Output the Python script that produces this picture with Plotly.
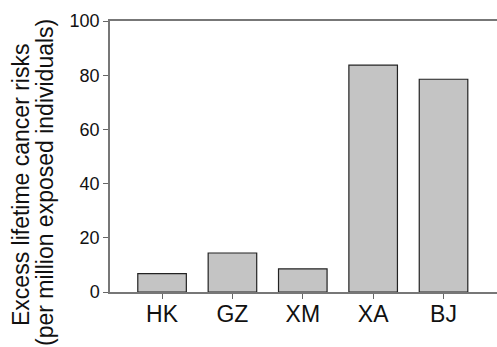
import plotly.graph_objects as go

sites = ["HK", "GZ", "XM", "XA", "BJ"]
risks = [6.8, 14.4, 8.5, 83.7, 78.5]
y_ticks = [0, 20, 40, 60, 80, 100]

W, H = 497, 347
L, R, T, B = 110, 0, 21, 55

fig = go.Figure(go.Bar(
    x=list(range(len(sites))), y=risks, width=0.69,
    marker=dict(color="#c4c4c4", line=dict(color="#222222", width=1.2)),
))

fig.update_layout(
    width=W, height=H,
    margin=dict(l=L, r=R, t=T, b=B),
    paper_bgcolor="white", plot_bgcolor="white",
    showlegend=False,
    font=dict(family="Liberation Sans, Arial, sans-serif", color="#111111"),
)
fig.update_xaxes(
    range=[-0.74, 4.76], tickmode="array",
    tickvals=list(range(len(sites))), ticktext=sites,
    ticks="outside", ticklen=5, tickcolor="#666666", tickwidth=1,
    ticklabelstandoff=-4,
    showline=True, linecolor="#777777", linewidth=1.5, mirror=True,
    showgrid=False, zeroline=False,
    tickfont=dict(size=23, color="#111111"),
)
fig.update_yaxes(
    range=[0, 100], tickvals=y_ticks,
    ticks="outside", ticklen=5, tickcolor="#666666", tickwidth=1,
    showline=True, linecolor="#777777", linewidth=1.5,
    showgrid=False, zeroline=False,
    tickfont=dict(size=18, color="#111111"),
)
fig.add_annotation(
    text="Excess lifetime cancer risks", textangle=-90,
    xref="paper", yref="paper", x=(21 - L) / (W - L - R), y=(H - B - 185) / (H - T - B),
    xanchor="center", yanchor="middle", showarrow=False,
    font=dict(size=23, color="#111111"),
)
fig.add_annotation(
    text="(per million exposed individuals)", textangle=-90,
    xref="paper", yref="paper", x=(45 - L) / (W - L - R), y=(H - B - 183) / (H - T - B),
    xanchor="center", yanchor="middle", showarrow=False,
    font=dict(size=23, color="#111111"),
)

fig.write_html(
    "out.html",
    config={"displayModeBar": False},
    post_script="document.body.style.margin='0';document.body.style.overflow='hidden';",
)
